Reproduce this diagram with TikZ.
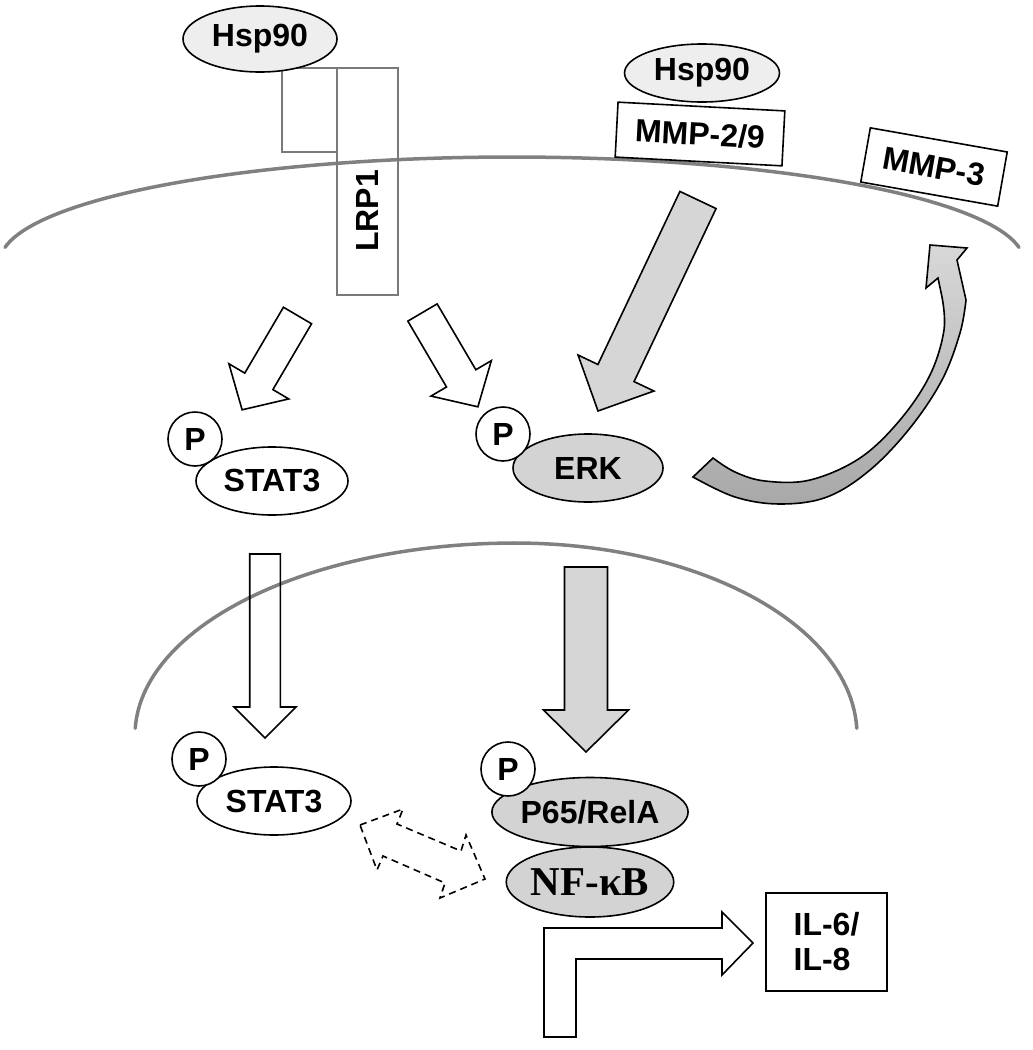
\documentclass[tikz,border=0pt]{standalone}
\usepackage{fontspec}
\setmainfont{Liberation Sans}
\newfontfamily\serifb{Liberation Serif}
\usetikzlibrary{shapes.geometric}
\definecolor{memb}{HTML}{808080}
\definecolor{boxgray}{HTML}{7A7A7A}
\definecolor{pfill}{HTML}{D3D3D3}
\definecolor{hspfill}{HTML}{EEEEEE}
\definecolor{arrgray}{HTML}{D6D6D6}
\definecolor{curvetop}{HTML}{D8D8D8}
\definecolor{curvebot}{HTML}{A8A8A8}

% block arrow: x1,y1 (tail centre), x2,y2 (tip), shaft half width, head half width, head length, style
\newcommand{\blockarrow}[8]{%
  \pgfmathsetmacro{\baAng}{atan2(#2-#4,#3-#1)}%
  \pgfmathsetmacro{\baLen}{veclen(#3-#1,#4-#2)}%
  \pgfmathsetmacro{\baNeck}{\baLen-#7}%
  \begin{scope}[shift={(#1,#2)}, rotate=\baAng]
    \draw[#8] (0pt,-#5pt) -- (\baNeck pt,-#5pt) -- (\baNeck pt,-#6pt) -- (\baLen pt,0pt)
      -- (\baNeck pt,#6pt) -- (\baNeck pt,#5pt) -- (0pt,#5pt) -- cycle;
  \end{scope}}

\begin{document}
\begin{tikzpicture}[x=1pt,y=-1pt,
  lbl/.style={font=\fontsize{32}{36}\selectfont\bfseries},
  ell/.style={ellipse, draw=black, line width=1.6pt, inner sep=0pt, lbl},
  pcirc/.style={circle, draw=black, fill=white, line width=1.6pt, minimum size=54pt, inner sep=0pt, lbl},
  graybox/.style={rectangle, draw=boxgray, line width=1.5pt, inner sep=0pt},
  tagbox/.style={rectangle, draw=black, fill=white, line width=1.6pt, inner sep=0pt, lbl},
  membrane/.style={draw=memb, line width=3.5pt, line cap=round},
  whitearrow/.style={draw=black, line width=1.6pt, line join=miter},
  grayarrow/.style={draw=black, fill=arrgray, line width=1.6pt, line join=miter},
  dasharrow/.style={draw=black, line width=1.6pt, dash pattern=on 7pt off 5pt},
]
\useasboundingbox (0,0) rectangle (1033,1050);

% cell membrane and nuclear envelope
\draw[membrane] plot[domain=172:8, samples=90] ({512+512*cos(\x)}, {262-105*sin(\x)});
\draw[membrane] plot[domain=178:90, samples=50] ({515+380*cos(\x)}, {735-192*sin(\x)})
  -- plot[domain=90:2, samples=50] ({515+342*cos(\x)}, {735-192*sin(\x)});

% receptor LRP1 with Hsp90
\node[graybox, minimum width=55pt, minimum height=84pt] (small) at (309.5,110) {};
\node[graybox, minimum width=61pt, minimum height=227pt] (lrp) at (367.5,181.5) {};
\node[lbl, rotate=90] (lrptxt) at (367.5,211) {LRP1};
\node[ell, fill=hspfill, minimum width=154pt, minimum height=66pt] (hspA) at (260,39) {Hsp90};

% MMPs with Hsp90
\node[ell, fill=hspfill, minimum width=155pt, minimum height=58pt] (hspB) at (702,73) {Hsp90};
\node[tagbox, minimum width=167pt, minimum height=55pt, rotate=-3] (mmp29) at (700,134) {MMP-2/9};
\node[tagbox, minimum width=139pt, minimum height=55pt, rotate=-10] (mmp3) at (934,167) {MMP-3};

% arrows from the membrane
\blockarrow{297.5}{315.5}{242}{410}{16.3}{34.7}{33}{whitearrow}
\blockarrow{422.5}{312.5}{478}{407}{17}{35}{33}{whitearrow}
\blockarrow{698}{200}{598}{411}{20}{42}{42}{grayarrow}

% curved arrow ERK -> MMP-3
\draw[draw=black, line width=1.6pt, top color=curvetop, bottom color=curvebot]
  plot[smooth, tension=0.6] coordinates {(693,477) (735,497) (780,504) (827,497) (870,470) (910,428) (942,380) (960,333) (966,300)}
  -- (957,260) -- (967,248) -- (930,245) -- (926,288) -- (938,278)
  -- plot[smooth, tension=0.6] coordinates {(942,297) (944,330) (930,375) (900,420) (860,458) (810,480) (765,481) (735,472) (713,458)}
  -- cycle;

% cytoplasmic STAT3 and ERK
\node[ell, fill=white, minimum width=152pt, minimum height=68pt] (stat1) at (272,481) {STAT3};
\node[pcirc] (pS1) at (195,439) {P};
\node[ell, fill=pfill, minimum width=150pt, minimum height=68pt] (erk) at (588,468) {ERK};
\node[pcirc] (pE) at (503,434) {P};

% into the nucleus
\blockarrow{265}{554}{265}{738}{15.3}{31}{31}{whitearrow}
\blockarrow{586}{567}{586}{752}{21.5}{42.5}{42}{grayarrow}

% nuclear STAT3 and NF-kB
\node[ell, fill=white, minimum width=154pt, minimum height=68pt] (stat2) at (274,801) {STAT3};
\node[pcirc] (pS2) at (199,759) {P};
\node[ell, fill=pfill, minimum width=166pt, minimum height=69pt] (p65) at (590,812) {P65/RelA};
\node[pcirc] (pP) at (508,769) {P};
\node[ell, fill=pfill, minimum width=154pt, minimum height=70pt,
      font=\serifb\fontsize{41}{44}\selectfont\bfseries] (nfkb) at (590,882) {NF-κB};

% dashed double arrow
\draw[dasharrow] (360,825) -- (403,809) -- (397,824) -- (461,851) -- (466,835) -- (485,879)
  -- (440,898) -- (445,883) -- (383,856) -- (377,870) -- cycle;

% bent arrow to IL-6/IL-8
\draw[whitearrow, fill=white] (544,1037) -- (544,928) -- (722,928) -- (722,912) -- (753,943)
  -- (722,975) -- (722,959) -- (576,959) -- (576,1037) -- cycle;
\node[tagbox, minimum width=121pt, minimum height=98pt, align=left,
      font=\fontsize{32}{35}\selectfont\bfseries] (il) at (826.5,942) {IL-6/\\IL-8};
\end{tikzpicture}
\end{document}
